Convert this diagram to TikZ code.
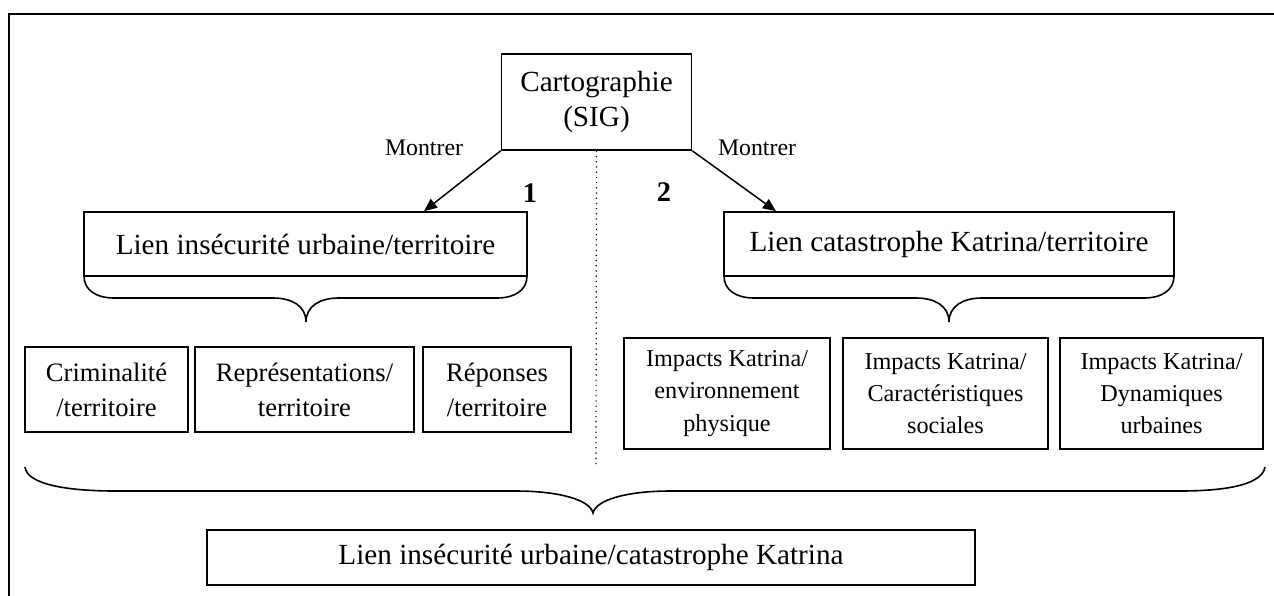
\documentclass[tikz,border=0pt]{standalone}
\usepackage{fontspec}
\setmainfont{Liberation Serif}
\usetikzlibrary{arrows.meta}

\tikzset{
	mapbox/.style={draw, line width=0.8pt, inner sep=0pt, align=center, font=\fontsize{14.6}{17.5}\selectfont},
	critbox/.style={mapbox, minimum height=42.5pt, font=\fontsize{13.3}{17.5}\selectfont},
	impbox/.style={mapbox, minimum height=55.5pt, font=\fontsize{12.1}{16.2}\selectfont},
	lbl/.style={inner sep=0pt, font=\fontsize{11.9}{14}\selectfont},
	partnum/.style={inner sep=0pt, font=\fontsize{14.2}{17}\selectfont\bfseries},
	arr/.style={line width=0.75pt, -{Triangle[length=6.5pt,width=5.5pt]}},
	brc/.style={line width=0.8pt},
	divider/.style={line width=0.6pt, dotted},
	pageframe/.style={line width=1.4pt}
}

\begin{document}
\begin{tikzpicture}[x=0.5pt,y=-0.5pt]
	\useasboundingbox (0,0) rectangle (1274,595);
	\draw[pageframe] (1280,14) -- (9,14) -- (9,600);

	\node[mapbox, minimum width=95pt, minimum height=48pt] (carto) at (596.5,102) {Cartographie\\(SIG)};
	\node[mapbox, minimum width=221.5pt, minimum height=32pt] (lienA) at (305.5,244) {Lien insécurité urbaine/territoire};
	\node[mapbox, minimum width=225pt, minimum height=32pt] (lienB) at (949,244) {Lien catastrophe Katrina/territoire};
	\node[critbox, minimum width=81.5pt] (crim) at (106.5,389.5) {Criminalité\\/territoire};
	\node[critbox, minimum width=109.5pt] (repr) at (304.5,389.5) {Représentations/\\territoire};
	\node[critbox, minimum width=74pt] (repo) at (497,389.5) {Réponses\\/territoire};
	\node[impbox, minimum width=103pt] (impA) at (727,393.5) {Impacts Katrina/\\environnement\\physique};
	\node[impbox, minimum width=102.5pt] (impB) at (945.5,393.5) {Impacts Katrina/\\Caractéristiques\\sociales};
	\node[impbox, minimum width=101.5pt] (impC) at (1161.5,393.5) {Impacts Katrina/\\Dynamiques\\urbaines};
	\node[mapbox, minimum width=384pt, minimum height=27.5pt] (lienAB) at (591,557.5) {Lien insécurité urbaine/catastrophe Katrina};

	\node[lbl] (showA) at (424,148) {Montrer};
	\node[lbl] (showB) at (757,148) {Montrer};
	\node[partnum] (partA) at (530,193) {1};
	\node[partnum] (partB) at (664,192) {2};
	\coordinate (sepend) at (596,467);

	\draw[arr] (carto.south west) -- ([xshift=59.25pt]lienA.north);
	\draw[arr] (carto.south east) -- ([xshift=-86.5pt]lienB.north);
	\draw[divider] (carto.south) -- (sepend);

	\draw[brc] (84,276) .. controls (84,290) and (96,298) .. (114,298) -- (273,298) .. controls (292,298) and (306,306) .. (306,322) .. controls (306,306) and (320,298) .. (339,298) -- (497,298) .. controls (515,298) and (527,290) .. (527,276);
	\draw[brc] (724,276) .. controls (724,290) and (736,298) .. (754,298) -- (916,298) .. controls (935,298) and (949,306) .. (949,322) .. controls (949,306) and (963,298) .. (982,298) -- (1144,298) .. controls (1162,298) and (1174,290) .. (1174,276);
	\draw[brc] (25,467) .. controls (27,485) and (70,491) .. (115,491) -- (515,491) .. controls (560,491) and (590,500) .. (593,513) .. controls (596,500) and (626,491) .. (671,491) -- (1180,491) .. controls (1225,491) and (1262,485) .. (1265,467);
\end{tikzpicture}
\end{document}
